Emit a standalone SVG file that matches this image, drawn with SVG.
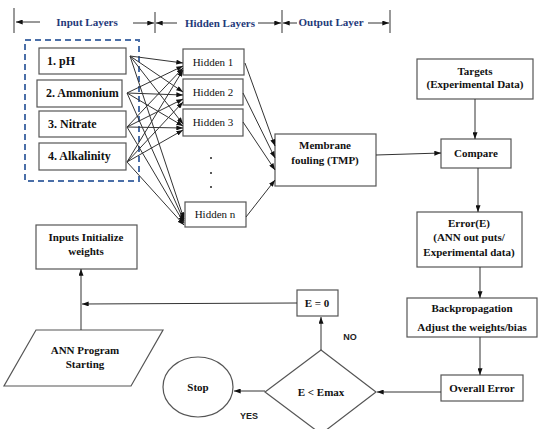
<svg xmlns="http://www.w3.org/2000/svg" width="538" height="429" viewBox="0 0 538 429">
<style>
.box{fill:#fff;stroke:#555;stroke-width:1.2}
text{font-family:'Liberation Serif','DejaVu Serif',serif}
.t{font-size:11px;font-weight:bold;fill:#111;text-anchor:middle}
.tl{font-size:12px;font-weight:bold;fill:#111}
.th{font-size:11px;fill:#111;text-anchor:middle}
.hd{font-size:11px;font-weight:bold;fill:#1f3a7a;text-anchor:middle}
text.yn{font-family:'Liberation Sans','DejaVu Sans',sans-serif;font-size:9px;font-weight:bold;fill:#222;text-anchor:middle}
.ln{fill:none;stroke:#333;stroke-width:1}
.bar{stroke:#555;stroke-width:1.2}
</style>
<defs>
<marker id="ah" viewBox="0 0 8 6" refX="8" refY="3" markerWidth="7" markerHeight="5" markerUnits="userSpaceOnUse" orient="auto">
<path d="M0,0 L8,3 L0,6 Z" fill="#111"/>
</marker>
</defs>
<g id="header">
<line class="bar" x1="14" y1="8" x2="14" y2="33"/>
<line class="bar" x1="155" y1="12" x2="155" y2="33"/>
<line class="bar" x1="282" y1="10" x2="282" y2="33"/>
<line class="bar" x1="390" y1="10" x2="390" y2="33"/>
<line class="ln" x1="40" y1="22" x2="16" y2="22" marker-end="url(#ah)"/>
<line class="ln" x1="133" y1="23" x2="154" y2="23" marker-end="url(#ah)"/>
<line class="ln" x1="177" y1="23" x2="156" y2="23" marker-end="url(#ah)"/>
<line class="ln" x1="258" y1="23" x2="281" y2="23" marker-end="url(#ah)"/>
<line class="ln" x1="297" y1="23" x2="283" y2="23" marker-end="url(#ah)"/>
<line class="ln" x1="368" y1="23" x2="389" y2="23" marker-end="url(#ah)"/>
<text class="hd" x="87" y="26" font-family="Liberation Serif">Input Layers</text>
<text class="hd" x="220" y="27" font-family="Liberation Serif">Hidden Layers</text>
<text class="hd" x="331" y="26" font-family="Liberation Serif">Output Layer</text>
</g>
<g id="input-group">
<rect x="25" y="40" width="114" height="141" fill="none" stroke="#4a6fa8" stroke-width="2" stroke-dasharray="6,4"/>
</g>
<g id="in1"><rect class="box" x="39" y="48" width="87" height="26"/><text class="tl" x="47" y="65">1. pH</text></g>
<g id="in2"><rect class="box" x="37" y="80" width="85" height="27"/><text class="tl" x="46" y="97">2. Ammonium</text></g>
<g id="in3"><rect class="box" x="39" y="111" width="87" height="26"/><text class="tl" x="48" y="128">3. Nitrate</text></g>
<g id="in4"><rect class="box" x="39" y="143" width="87" height="27"/><text class="tl" x="48" y="160">4. Alkalinity</text></g>
<g id="h1"><rect class="box" x="183" y="49" width="61" height="26"/><text class="th" x="213" y="66">Hidden 1</text></g>
<g id="h2"><rect class="box" x="183" y="79" width="60" height="26"/><text class="th" x="213" y="96">Hidden 2</text></g>
<g id="h3"><rect class="box" x="183" y="109" width="60" height="27"/><text class="th" x="213" y="126">Hidden 3</text></g>
<g id="dots" fill="#222"><circle cx="211" cy="158" r="1"/><circle cx="211" cy="173" r="1"/><circle cx="211" cy="187" r="1"/></g>
<g id="hn"><rect class="box" x="185" y="202" width="61" height="25"/><text class="th" x="215" y="218">Hidden n</text></g>
<g id="membrane"><rect class="box" x="275" y="134" width="101" height="52"/><text class="t" x="325" y="149">Membrane</text><text class="t" x="325" y="164">fouling (TMP)</text></g>
<g id="targets"><rect class="box" x="417" y="59" width="116" height="40"/><text class="t" x="475" y="75">Targets</text><text class="t" x="475" y="88">(Experimental Data)</text></g>
<g id="compare"><rect class="box" x="441" y="139" width="70" height="29"/><text class="t" x="476" y="157">Compare</text></g>
<g id="error"><rect class="box" x="417" y="212" width="105" height="55"/><text class="t" x="469" y="227">Error(E)</text><text class="t" x="469" y="241">(ANN out puts/</text><text class="t" x="469" y="256">Experimental data)</text></g>
<g id="backprop"><rect class="box" x="407" y="298" width="130" height="39"/><text class="t" x="472" y="312">Backpropagation</text><text class="t" x="472" y="331">Adjust the weights/bias</text></g>
<g id="overall"><rect class="box" x="441" y="375" width="82" height="26"/><text class="t" x="482" y="392">Overall Error</text></g>
<g id="decision"><path class="box" d="M321,350 L376,392 L321,434 L265,392 Z"/><text class="t" x="321" y="396">E &lt; Emax</text></g>
<g id="e0"><rect class="box" x="297" y="290" width="41" height="26"/><text class="t" x="317" y="307">E = 0</text></g>
<g id="stop"><ellipse class="box" cx="198" cy="387" rx="35" ry="30"/><text class="t" x="198" y="391">Stop</text></g>
<g id="init"><rect class="box" x="36" y="225" width="101" height="44"/><text class="t" x="86" y="241">Inputs Initialize</text><text class="t" x="86" y="255">weights</text></g>
<g id="start"><path class="box" d="M36,330 L163,330 L131,386 L4,386 Z"/><text class="t" x="85" y="354">ANN Program</text><text class="t" x="85" y="368">Starting</text></g>
<g id="labels"><text class="yn" x="350" y="340">NO</text><text class="yn" x="249" y="419">YES</text></g>
<g id="connectors" class="ln" fill="none" stroke="#333">
<line x1="130" y1="56" x2="183" y2="63" marker-end="url(#ah)"/>
<line x1="130" y1="56" x2="183" y2="92" marker-end="url(#ah)"/>
<line x1="130" y1="56" x2="183" y2="124" marker-end="url(#ah)"/>
<line x1="130" y1="56" x2="184" y2="219" marker-end="url(#ah)"/>
<line x1="127" y1="93" x2="183" y2="66" marker-end="url(#ah)"/>
<line x1="127" y1="93" x2="183" y2="95" marker-end="url(#ah)"/>
<line x1="127" y1="93" x2="183" y2="126" marker-end="url(#ah)"/>
<line x1="127" y1="93" x2="184" y2="221" marker-end="url(#ah)"/>
<line x1="127" y1="127" x2="183" y2="68" marker-end="url(#ah)"/>
<line x1="127" y1="127" x2="183" y2="99" marker-end="url(#ah)"/>
<line x1="127" y1="127" x2="183" y2="128" marker-end="url(#ah)"/>
<line x1="127" y1="127" x2="184" y2="223" marker-end="url(#ah)"/>
<line x1="127" y1="162" x2="183" y2="70" marker-end="url(#ah)"/>
<line x1="127" y1="162" x2="183" y2="102" marker-end="url(#ah)"/>
<line x1="127" y1="162" x2="183" y2="130" marker-end="url(#ah)"/>
<line x1="127" y1="162" x2="184" y2="225" marker-end="url(#ah)"/>
<line x1="245" y1="63" x2="275" y2="146" marker-end="url(#ah)"/>
<line x1="243" y1="93" x2="275" y2="158" marker-end="url(#ah)"/>
<line x1="243" y1="122" x2="275" y2="170" marker-end="url(#ah)"/>
<line x1="246" y1="217" x2="275" y2="180" marker-end="url(#ah)"/>
<line x1="376" y1="155" x2="441" y2="153" marker-end="url(#ah)"/>
<line x1="475" y1="99" x2="475" y2="139" marker-end="url(#ah)"/>
<line x1="478" y1="168" x2="478" y2="212" marker-end="url(#ah)"/>
<line x1="480" y1="267" x2="480" y2="298" marker-end="url(#ah)"/>
<line x1="480" y1="337" x2="480" y2="375" marker-end="url(#ah)"/>
<line x1="441" y1="392" x2="377" y2="392" marker-end="url(#ah)"/>
<line x1="265" y1="391" x2="234" y2="391" marker-end="url(#ah)"/>
<line x1="321" y1="350" x2="321" y2="317" marker-end="url(#ah)"/>
<line x1="297" y1="303" x2="82" y2="304" marker-end="url(#ah)"/>
<line x1="81" y1="330" x2="81" y2="269" marker-end="url(#ah)"/>
</g>
</svg>
